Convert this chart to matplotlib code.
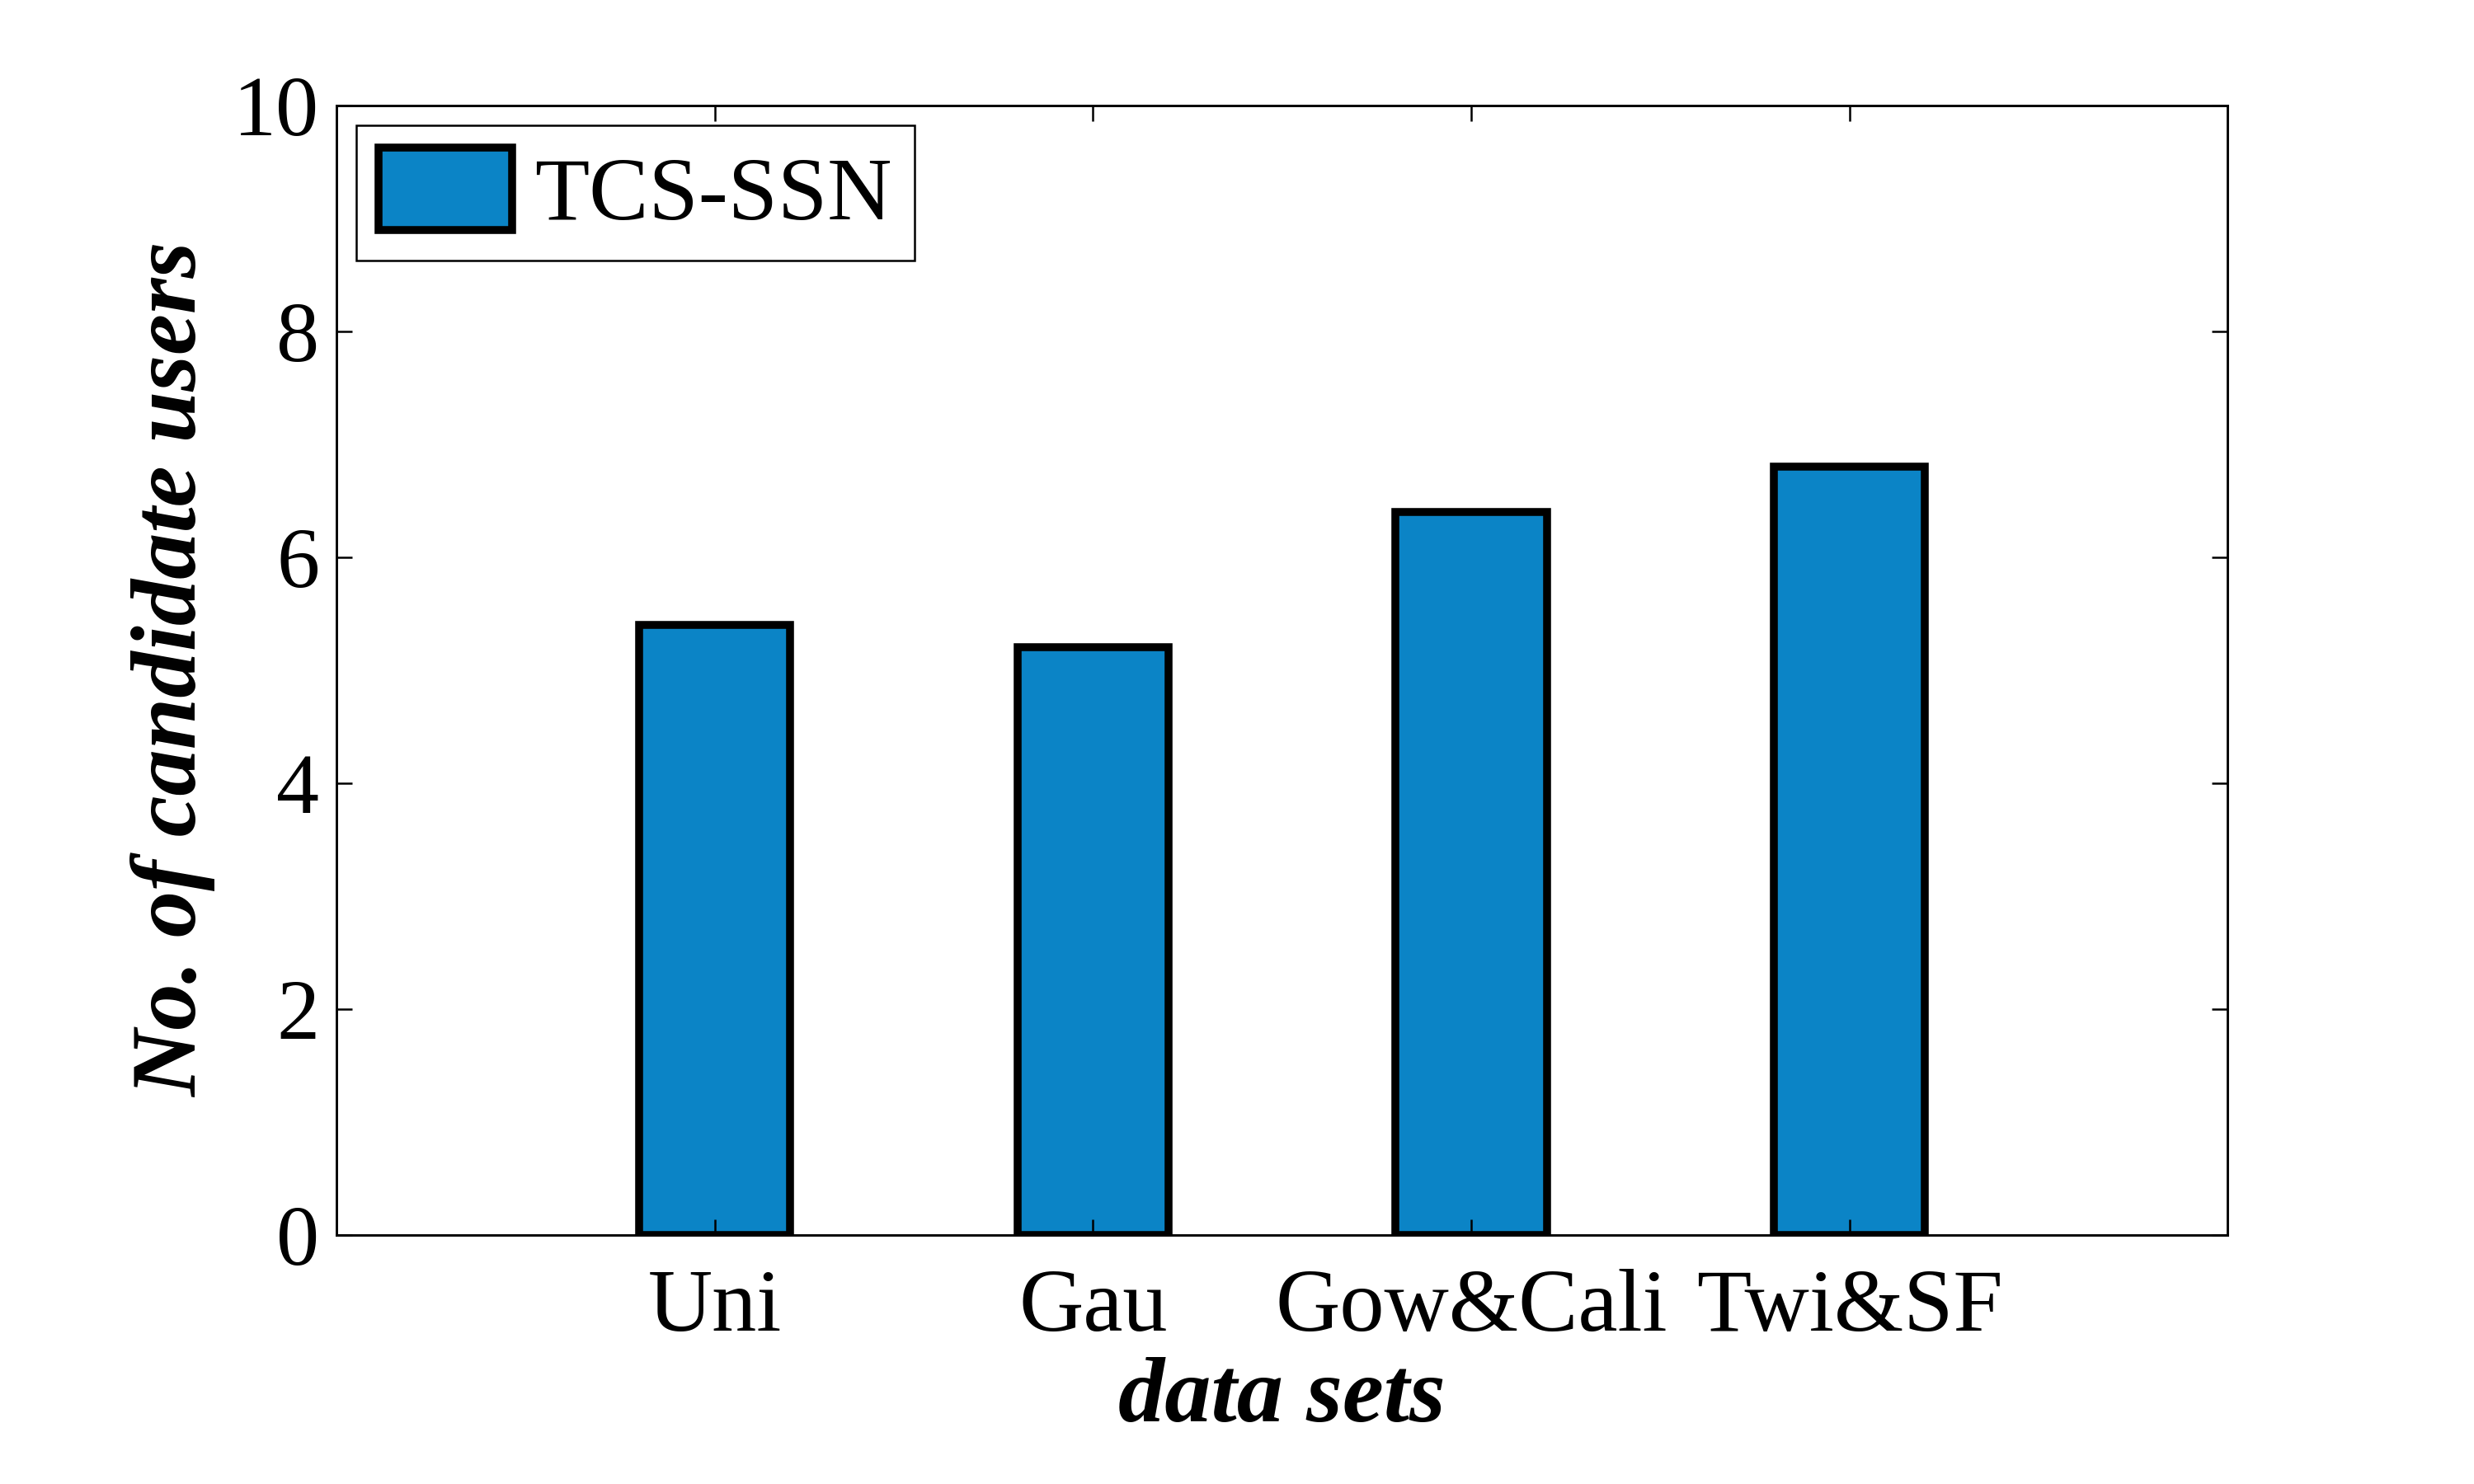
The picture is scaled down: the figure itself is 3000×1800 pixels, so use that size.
import matplotlib
matplotlib.use("Agg")
import matplotlib.pyplot as plt

categories = ["Uni", "Gau", "Gow&Cali", "Twi&SF"]
values = [5.4, 5.2, 6.4, 6.8]
series_name = "TCS-SSN"
yticks = [0, 2, 4, 6, 8, 10]

plt.rcParams['font.family'] = ['Liberation Serif', 'DejaVu Serif']

fig = plt.figure(figsize=(10, 6), dpi=300)
ax = fig.add_axes([0.136, 0.168, 0.7644, 0.761])

positions = list(range(1, len(categories) + 1))
ax.bar(positions, values, width=0.4, color="#0b84c6", edgecolor="black",
       linewidth=2.3, label=series_name)

ax.set_xlim(0, 5)
ax.set_ylim(0, 10)
ax.set_xticks(positions)
ax.set_xticklabels(categories, fontsize=26)
ax.set_yticks(yticks)
ax.set_yticklabels([str(t) for t in yticks], fontsize=25)
ax.tick_params(direction="in", length=4.5, width=0.6, top=True, right=True)
ax.tick_params(axis="x", pad=10)
ax.tick_params(axis="y", pad=5)
for s in ax.spines.values():
    s.set_linewidth(0.7)

ax.set_xlabel("data sets", fontsize=27, fontweight="bold", style="italic",
              labelpad=2)
ax.set_ylabel("No. of candidate users", fontsize=27, fontweight="bold",
              style="italic", labelpad=5)

leg = ax.legend(loc="upper left", fontsize=26, fancybox=False,
                edgecolor="black", framealpha=1, handlelength=1.5,
                handleheight=1.05, handletextpad=0.25, borderpad=0.25,
                borderaxespad=0.22)
leg.get_frame().set_linewidth(0.6)

fig.savefig("out.png", dpi=300, facecolor="white")
